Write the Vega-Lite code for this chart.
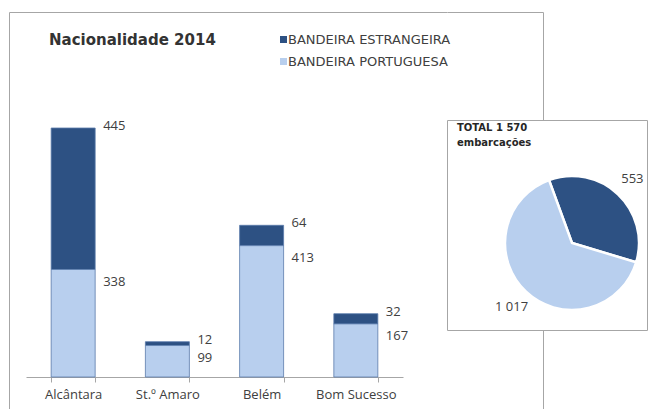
{
  "$schema": "https://vega.github.io/schema/vega-lite/v6.json",
  "background": "white",
  "padding": {"left": 9, "top": 12, "right": 0, "bottom": 0},
  "bounds": "flush",
  "spacing": 0,
  "datasets": {
    "bars": [
      {"site": "Alcântara", "flag": "BANDEIRA ESTRANGEIRA", "n": 445},
      {"site": "Alcântara", "flag": "BANDEIRA PORTUGUESA", "n": 338},
      {"site": "St.º Amaro", "flag": "BANDEIRA ESTRANGEIRA", "n": 12},
      {"site": "St.º Amaro", "flag": "BANDEIRA PORTUGUESA", "n": 99},
      {"site": "Belém", "flag": "BANDEIRA ESTRANGEIRA", "n": 64},
      {"site": "Belém", "flag": "BANDEIRA PORTUGUESA", "n": 413},
      {"site": "Bom Sucesso", "flag": "BANDEIRA ESTRANGEIRA", "n": 32},
      {"site": "Bom Sucesso", "flag": "BANDEIRA PORTUGUESA", "n": 167}
    ],
    "pie": [
      {"flag": "BANDEIRA ESTRANGEIRA", "n": 553},
      {"flag": "BANDEIRA PORTUGUESA", "n": 1017}
    ]
  },
  "config": {
    "view": {"stroke": null},
    "locale": {"number": {"decimal": ",", "thousands": " ", "grouping": [3], "currency": ["", " €"]}},
    "legend": {
      "orient": "none", "legendX": 268, "legendY": 21, "title": null,
      "symbolType": "square", "symbolSize": 49, "symbolStrokeWidth": 0,
      "labelFont": "DejaVu Sans", "labelFontSize": 13, "labelColor": "#404040", "labelLimit": 300,
      "rowPadding": 8, "labelOffset": -2, "direction": "vertical"
    }
  },
  "hconcat": [
    {
      "width": 438,
      "height": 397,
      "title": {
        "text": "Nacionalidade 2014", "anchor": "start", "frame": "group",
        "dx": 40, "offset": -48, "baseline": "alphabetic",
        "font": "DejaVu Sans", "fontSize": 15, "fontWeight": "bold", "color": "#333333"
      },
      "resolve": {"scale": {"x": "independent", "y": "independent"}, "axis": {"x": "independent", "y": "independent"}},
      "layer": [
        {
          "data": {"values": []},
          "mark": "point",
          "encoding": {
            "x": {"field": "fx", "type": "quantitative", "scale": {"domain": [0, 1]},
                  "axis": {"orient": "top", "domain": true, "domainColor": "#a6a6a6", "ticks": false, "labels": false, "grid": false, "title": null}},
            "y": {"field": "fy", "type": "quantitative", "scale": {"domain": [0, 1]},
                  "axis": {"orient": "left", "domain": true, "domainColor": "#a6a6a6", "ticks": false, "labels": false, "grid": false, "title": null}}
          }
        },
        {
          "data": {"name": "bars"},
          "transform": [
            {"stack": "n", "groupby": ["site"], "sort": [{"field": "flag", "order": "descending"}], "as": ["y0", "y1"]}
          ],
          "encoding": {
            "x": {
              "field": "site", "type": "nominal",
              "sort": ["Alcântara", "St.º Amaro", "Belém", "Bom Sucesso"],
              "scale": {"domain": ["Alcântara", "St.º Amaro", "Belém", "Bom Sucesso"], "range": [17, 394], "paddingInner": 0.533, "paddingOuter": 0.267},
              "axis": {
                "title": null, "orient": "bottom", "offset": -32, "labelAngle": 0, "tickBand": "extent",
                "domainColor": "#a6a6a6", "tickColor": "#a6a6a6", "tickSize": 5,
                "labelFont": "Open Sans", "labelFontSize": 13, "labelColor": "#404040",
                "labelPadding": 6, "grid": false
              }
            },
            "y": {"field": "y1", "type": "quantitative", "scale": {"domain": [0, 783], "range": [365, 116], "nice": false}, "axis": null}
          },
          "layer": [
            {
              "mark": {"type": "bar", "stroke": "#5a7bab", "strokeWidth": 0.8},
              "encoding": {
                "y2": {"field": "y0"},
                "color": {
                  "field": "flag", "type": "nominal",
                  "scale": {"domain": ["BANDEIRA ESTRANGEIRA", "BANDEIRA PORTUGUESA"], "range": ["#2d5183", "#b8cfee"]}
                }
              }
            },
            {
              "transform": [{"filter": "datum.flag === 'BANDEIRA ESTRANGEIRA'"}],
              "mark": {"type": "text", "align": "left", "baseline": "middle", "dx": 30, "dy": -2, "font": "Open Sans", "fontSize": 13, "fill": "#404040"},
              "encoding": {
                "text": {"field": "n", "type": "quantitative"}
              }
            },
            {
              "transform": [{"filter": "datum.flag === 'BANDEIRA PORTUGUESA'"}],
              "mark": {"type": "text", "align": "left", "baseline": "middle", "dx": 30, "dy": 12, "font": "Open Sans", "fontSize": 13, "fill": "#404040"},
              "encoding": {
                "text": {"field": "n", "type": "quantitative"}
              }
            }
          ]
        }
      ]
    },
    {
      "bounds": "flush",
      "spacing": 0,
      "vconcat": [
        {
          "width": 96,
          "height": 108,
          "data": {"values": []},
          "mark": "point",
          "encoding": {
            "x": {"field": "fx", "type": "quantitative", "scale": {"domain": [0, 1]},
                  "axis": {"orient": "top", "domain": true, "domainColor": "#a6a6a6", "ticks": false, "labels": false, "grid": false, "title": null}},
            "y": {"field": "fy", "type": "quantitative", "scale": {"domain": [0, 1]},
                  "axis": {"orient": "right", "domain": true, "domainColor": "#a6a6a6", "ticks": false, "labels": false, "grid": false, "title": null}}
          }
        },
        {
          "width": 200,
          "height": 210,
          "data": {"name": "pie"},
          "view": {"fill": "white", "stroke": "#a6a6a6"},
          "title": {
            "text": ["TOTAL 1 570", "embarcações"], "anchor": "start", "frame": "group",
            "dx": 10, "offset": -28, "baseline": "top", "lineHeight": 15,
            "font": "DejaVu Sans", "fontSize": 10, "fontWeight": "bold", "color": "#262626"
          },
          "encoding": {
            "theta": {"field": "n", "type": "quantitative", "stack": true, "scale": {"range": [-0.35, 5.9332]}},
            "order": {"field": "flag", "sort": "ascending"}
          },
          "layer": [
            {
              "mark": {"type": "arc", "outerRadius": 67, "stroke": "white", "strokeWidth": 2.5, "xOffset": 25, "yOffset": 18},
              "encoding": {
                "color": {"field": "flag", "type": "nominal", "scale": {"domain": ["BANDEIRA ESTRANGEIRA", "BANDEIRA PORTUGUESA"], "range": ["#2d5183", "#b8cfee"]}}
              }
            },
            {
              "mark": {"type": "text", "radius": 88, "xOffset": 25, "yOffset": 18, "font": "Open Sans", "fontSize": 13, "fill": "#404040"},
              "encoding": {
                "detail": {"field": "flag"},
                "text": {"field": "n", "type": "quantitative", "format": ","}
              }
            }
          ]
        },
        {
          "width": 96,
          "height": 79,
          "data": {"values": []},
          "mark": "point",
          "encoding": {
            "y": {"field": "fy", "type": "quantitative", "scale": {"domain": [0, 1]},
                  "axis": {"orient": "right", "domain": true, "domainColor": "#a6a6a6", "ticks": false, "labels": false, "grid": false, "title": null}}
          }
        }
      ]
    }
  ]
}
